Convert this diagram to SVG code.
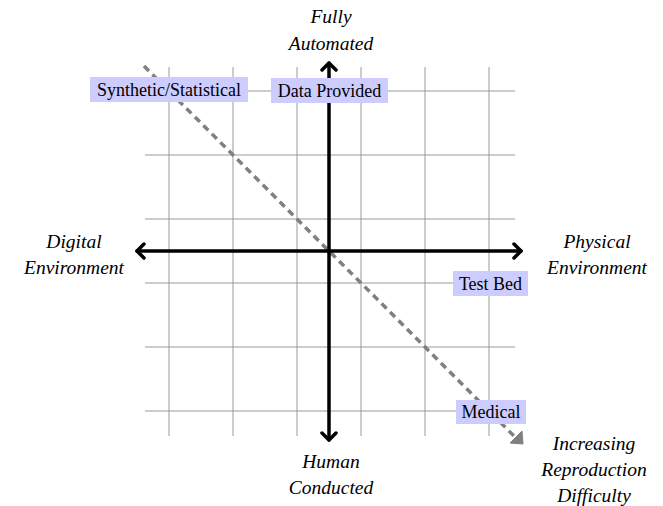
<svg xmlns="http://www.w3.org/2000/svg" width="663" height="506" viewBox="0 0 663 506">
<style>
.grid{stroke:#999;stroke-width:1;fill:none}
.axis{stroke:#000;stroke-width:3.5;fill:none;stroke-linecap:round;stroke-linejoin:round}
.box{fill:#ccccff}
.lbl{font-family:"Liberation Serif",serif;font-size:18px;fill:#000;text-anchor:middle}
.ax{font-family:"Liberation Serif",serif;font-size:19.5px;font-style:italic;fill:#000;text-anchor:middle}
</style>
<rect width="663" height="506" fill="#fff"/>
<g id="grid">
<path class="grid" d="M169 67V436M233 67V436M297 67V436M361 67V436M425 67V436M489 67V436M145 91H515M145 155H515M145 219H515M145 283H515M145 347H515M145 411H515"/>
</g>
<g id="connectors">
<path d="M144 66L516 438" stroke="#808080" stroke-width="3.5" stroke-dasharray="7,5" fill="none"/>
<path d="M523 444L522 431L510 443Z" fill="#808080" stroke="#808080" stroke-width="1" stroke-linejoin="round"/>
<path class="axis" d="M137 251H521M329 63V440"/>
<path class="axis" d="M144 244L137 251L144 258M514 244L521 251L514 258M322 70L329 63L336 70M322 433L329 440L336 433"/>
</g>
<g id="synthetic"><rect class="box" x="90" y="77" width="158" height="25"/><text class="lbl" x="169" y="96">Synthetic/Statistical</text></g>
<g id="data-provided"><rect class="box" x="271" y="78" width="117" height="25"/><text class="lbl" x="329.5" y="97">Data Provided</text></g>
<g id="test-bed"><rect class="box" x="453" y="271" width="75" height="25"/><text class="lbl" x="490.5" y="290">Test Bed</text></g>
<g id="medical"><rect class="box" x="456" y="400" width="70" height="24"/><text class="lbl" x="491" y="418">Medical</text></g>
<g id="top-label"><text class="ax" x="331" y="23">Fully</text><text class="ax" x="331" y="50">Automated</text></g>
<g id="left-label"><text class="ax" x="74" y="248">Digital</text><text class="ax" x="74" y="274">Environment</text></g>
<g id="right-label"><text class="ax" x="597" y="248">Physical</text><text class="ax" x="597" y="274">Environment</text></g>
<g id="bottom-label"><text class="ax" x="331" y="468">Human</text><text class="ax" x="331" y="494">Conducted</text></g>
<g id="diag-label"><text class="ax" x="594" y="450">Increasing</text><text class="ax" x="594" y="476">Reproduction</text><text class="ax" x="594" y="502">Difficulty</text></g>
</svg>
